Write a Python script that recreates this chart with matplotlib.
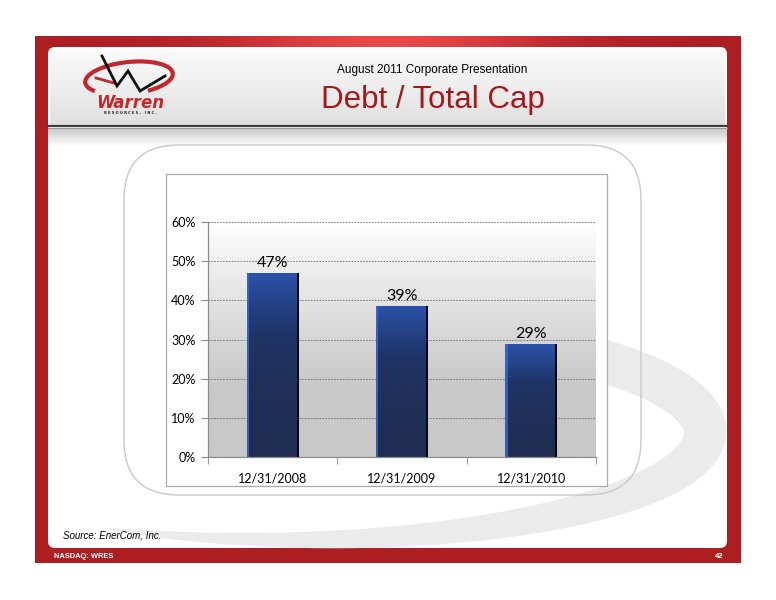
import matplotlib.pyplot as plt
import numpy as np
from matplotlib.colors import LinearSegmentedColormap
from matplotlib.patches import Arc, FancyBboxPatch, Polygon, Rectangle
from matplotlib.ticker import FixedLocator

categories = ["12/31/2008", "12/31/2009", "12/31/2010"]
debt_to_cap = [0.47, 0.386, 0.288]
y_ticks = [0.0, 0.1, 0.2, 0.3, 0.4, 0.5, 0.6]
y_tick_labels = ["0%", "10%", "20%", "30%", "40%", "50%", "60%"]

title = "Debt / Total Cap"
subtitle = "August 2011 Corporate Presentation"
source = "Source: EnerCom, Inc."
footer_left = "NASDAQ: WRES"
footer_right = "42"

RED = "#ad1e23"
TITLE_RED = "#a3181d"
W, H = 776, 600


def cmap(name, cols):
    return LinearSegmentedColormap.from_list(name, cols)


fig = plt.figure(figsize=(W / 100, H / 100), dpi=100)
fig.patch.set_facecolor("white")

# slide decoration, drawn in pixel coordinates
bg = fig.add_axes([0, 0, 1, 1])
bg.set_xlim(0, W)
bg.set_ylim(H, 0)
bg.axis("off")

# red frame with a brighter band at the top
bg.add_patch(Rectangle((35, 36), 706, 527, facecolor=RED, edgecolor="none"))
band = np.exp(-(np.linspace(-1, 1, 300) / 0.45) ** 2)[None, :]
bg.imshow(band, extent=(35, 741, 47, 36), cmap=cmap("r", [RED, "#e8474b"]),
          aspect="auto", zorder=1)

# white panel + header
bg.add_patch(FancyBboxPatch((48, 47), 679, 501, boxstyle="round,pad=0,rounding_size=7",
                            facecolor="white", edgecolor="none", zorder=2))
hdr = np.linspace(0, 1, 100)[:, None]
bg.imshow(hdr, extent=(50, 725, 125, 49), cmap=cmap("h", ["#fbfbfb", "#e0e0e0"]),
          aspect="auto", zorder=3)
bg.plot([48, 727], [125.5, 125.5], color="#3c3c3c", lw=1.6, zorder=4)
bg.plot([48, 727], [128, 128], color="#9a9a9a", lw=0.8, zorder=4)
sh = np.linspace(0, 1, 50)[:, None]
bg.imshow(sh, extent=(48, 727, 146, 129), cmap=cmap("s", ["#cbcbcb", "#ffffff"]),
          aspect="auto", zorder=3)

# grey swoosh behind the chart: tapered band along an ellipse
th = np.radians(np.linspace(-50, 117, 400))
cx, cy, a, b = 292, 432, 413, 108
wid = np.where(th <= 0, 43, 43 * np.clip(1 - th / np.radians(117), 0, 1) ** 0.7)
ex, ey = cx + a * np.cos(th), cy + b * np.sin(th)
nx, ny = np.cos(th) / a, np.sin(th) / b
nrm = np.hypot(nx, ny)
nx, ny = nx / nrm, ny / nrm
outer = np.column_stack([ex + nx * wid * 0.5, ey + ny * wid * 0.5])
inner = np.column_stack([ex - nx * wid * 0.5, ey - ny * wid * 0.5])
bg.add_patch(Polygon(np.vstack([outer, inner[::-1]]), closed=True, facecolor="#ebebeb",
                     edgecolor="none", zorder=3))

# rounded outline + chart box
bg.add_patch(FancyBboxPatch((124, 145), 517, 350, boxstyle="round,pad=0,rounding_size=55",
                            facecolor="none", edgecolor="#c8c8c8", lw=1.0, zorder=4))
bg.add_patch(Rectangle((166, 174), 441, 312, facecolor="white", edgecolor="#a8a8a8",
                       lw=0.9, zorder=5))

# logo
bg.add_patch(Arc((129, 78), 88, 32, angle=-6, theta1=165, theta2=400,
                 color="#c0282d", lw=3.0, zorder=5))
bg.plot([96, 114], [78, 83], color="#c0282d", lw=2.0, zorder=5)
bg.plot([102, 117, 128, 140, 165], [56, 86, 71, 91, 76], color="#111111", lw=2.0,
        solid_joinstyle="miter", zorder=6)
bg.text(130, 103, "Warren", color="#c0282d", fontsize=12, fontweight="bold",
        fontstyle="italic", ha="center", va="center", family="DejaVu Sans", zorder=6)
bg.text(130, 113, "R E S O U R C E S ,   I N C .", color="#222222", fontsize=2.6,
        fontweight="bold", ha="center", va="center", zorder=6)

# titles
bg.text(432, 70, subtitle, fontsize=8.5, ha="center", va="center",
        family="Liberation Sans", zorder=6)
bg.text(433, 100, title, fontsize=22.5, color=TITLE_RED, ha="center", va="center",
        family="Liberation Sans", zorder=6)

# footer
bg.text(63, 535, source, fontsize=7, fontstyle="italic", ha="left", va="center",
        family="Liberation Sans", zorder=6)
bg.text(54, 556.5, footer_left, fontsize=5.4, fontweight="bold", color="white",
        ha="left", va="center", family="Liberation Sans", zorder=6)
bg.text(723, 556.5, footer_right, fontsize=5.4, fontweight="bold", color="white",
        ha="right", va="center", family="Liberation Sans", zorder=6)

# chart
ax = fig.add_axes([208 / W, 1 - 457 / H, 388 / W, 235 / H])
ax.set_facecolor("none")
x = np.arange(len(categories))
ax.set_xlim(-0.5, len(categories) - 0.5)
ax.set_ylim(0, 0.6)

pg = 1 - np.clip(np.linspace(0, 1, 200)[:, None] / 0.7, 0, 1) ** 0.9
ax.imshow(pg, extent=(-0.5, len(categories) - 0.5, 0, 0.6), aspect="auto", zorder=0,
          cmap=cmap("pg", ["#c8c8c8", "#ffffff"]), origin="upper")

ax.yaxis.grid(True, linestyle=(0, (2, 1.5)), color="#6a6a6a", lw=0.6, zorder=1)
ax.set_axisbelow(True)

bars = ax.bar(x, debt_to_cap, width=0.4, color="none", edgecolor="none", zorder=2)
bar_cmap = cmap("b", ["#1f2d52", "#1f3466", "#2c52ab"])
for rect, v in zip(bars, debt_to_cap):
    x0, w = rect.get_x(), rect.get_width()
    g = np.linspace(0, 1, 200)[:, None] ** 1.6
    im = ax.imshow(g, extent=(x0, x0 + w, 0, v), origin="lower", aspect="auto",
                   cmap=bar_cmap, zorder=2)
    im.set_clip_path(rect)
    ax.add_patch(Rectangle((x0, 0), w * 0.04, v, facecolor="#3d6ad0", edgecolor="none",
                           alpha=0.8, zorder=3))
    ax.add_patch(Rectangle((x0 + w * 0.965, 0), w * 0.035, v, facecolor="#05070d",
                           edgecolor="none", zorder=3))
    ax.text(x0 + w / 2, v + 0.008, f"{round(v * 100)}%", ha="center", va="bottom",
            fontsize=11.5, family="Lato", zorder=4)

ax.set_yticks(y_ticks)
ax.set_yticklabels(y_tick_labels, family="Lato", fontsize=9)
ax.set_xticks(x)
ax.set_xticklabels(categories, family="Lato", fontsize=9)
ax.xaxis.set_minor_locator(FixedLocator([-0.5, 0.5, 1.5, 2.5]))
ax.tick_params(axis="x", which="major", length=0, pad=11)
ax.tick_params(axis="x", which="minor", length=5, color="#8a8a8a", direction="out")
ax.tick_params(axis="y", length=5, color="#8a8a8a", pad=4)
for s in ["top", "right"]:
    ax.spines[s].set_visible(False)
for s in ["left", "bottom"]:
    ax.spines[s].set_color("#8a8a8a")
    ax.spines[s].set_linewidth(0.9)

fig.savefig("out.png", dpi=100)
